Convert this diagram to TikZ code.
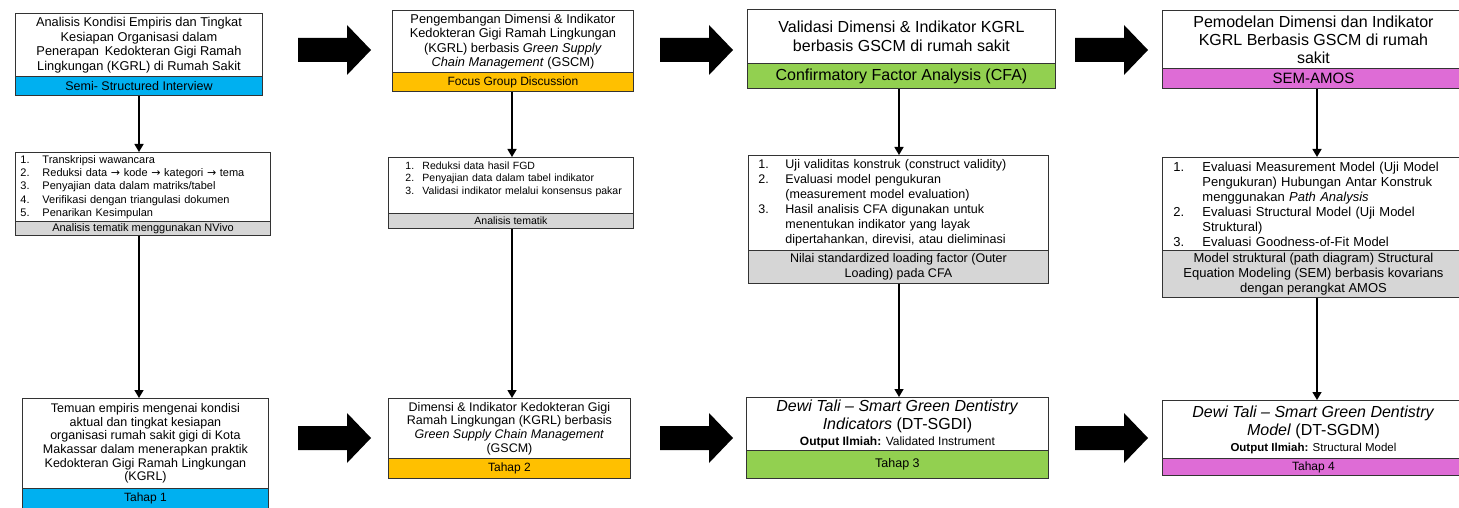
\documentclass[tikz,border=0pt]{standalone}
\usepackage{fontspec}
\setmainfont{Liberation Sans}
\newfontfamily\arrfont{DejaVu Sans}
\usetikzlibrary{arrows.meta}
\newcommand\myfs[2]{\fontsize{#1}{#2}\selectfont}
\newcommand\itm[3]{\makebox[#1][l]{#2.}#3}
\newcommand\cnt[2]{\hspace*{#1}#2}
\newcommand\rarr{{\arrfont →}}
\definecolor{bandblue}{RGB}{0,176,240}
\definecolor{bandorange}{RGB}{255,192,0}
\definecolor{bandgreen}{RGB}{146,208,80}
\definecolor{bandmagenta}{RGB}{222,108,214}
\definecolor{bandgray}{RGB}{214,214,214}
\tikzset{
  frame/.style={draw=black!80, line width=0.9pt, anchor=north west, inner sep=0pt, align=center},
  lst/.style={frame, align=left, inner ysep=0pt},
  conn/.style={line width=1.4pt, -{Triangle[length=8pt,width=9pt]}},
  bigarrow/.pic={\fill[black] (0,-12) -- (49,-12) -- (49,-25) -- (73,0) -- (49,25) -- (49,12) -- (0,12) -- cycle;}
}
\begin{document}
\begin{tikzpicture}[x=1pt,y=-1pt]
\clip (0,0) rectangle (1459,508);
\fill[white] (0,0) rectangle (1459,508);

% column coordinates
\coordinate (c1) at (139,0);
\coordinate (c2) at (512,0);
\coordinate (c3) at (899,0);
\coordinate (c4) at (1317,0);

% ---------- Row 1 ----------
\node[frame, minimum width=247pt, minimum height=63pt, font=\myfs{12.8}{14.5}] (t1) at (15,13)
 {Analisis Kondisi Empiris dan Tingkat\\ Kesiapan Organisasi dalam\\ Penerapan\, Kedokteran Gigi Ramah\\ Lingkungan (KGRL) di Rumah Sakit};
\node[frame, fill=bandblue, minimum width=247pt, minimum height=19pt, font=\myfs{12.5}{14}] (b1) at (15,76)
 {Semi- Structured Interview};

\node[frame, minimum width=241pt, minimum height=62pt, font=\myfs{12.8}{14.5}] (t2) at (392,10)
 {Pengembangan Dimensi \& Indikator\\ Kedokteran Gigi Ramah Lingkungan\\ (KGRL) berbasis \textit{Green Supply}\\ \textit{Chain Management} (GSCM)};
\node[frame, fill=bandorange, minimum width=241pt, minimum height=19pt, font=\myfs{12}{14}] (b2) at (392,72)
 {Focus Group Discussion};

\node[frame, minimum width=308pt, minimum height=54pt, font=\myfs{16}{19}] (t3) at (747,9)
 {Validasi Dimensi \& Indikator KGRL\\ berbasis GSCM di rumah sakit};
\node[frame, fill=bandgreen, minimum width=308pt, minimum height=25pt, font=\myfs{16}{19}] (b3) at (747,63)
 {Confirmatory Factor Analysis (CFA)};

\node[frame, minimum width=302pt, minimum height=58pt, font=\myfs{16}{18}] (t4) at (1162,10)
 {Pemodelan Dimensi dan Indikator\\ KGRL Berbasis GSCM di rumah\\ sakit};
\node[frame, fill=bandmagenta, minimum width=302pt, minimum height=20pt, font=\myfs{15}{17}] (b4) at (1162,68)
 {SEM-AMOS};

\pic at (298,50) {bigarrow};
\pic at (660,50) {bigarrow};
\pic at (1075,50) {bigarrow};

% ---------- Row 2 ----------
\node[lst, text width=245pt, inner xsep=5pt, minimum width=255pt, minimum height=69pt, font=\myfs{11}{13.3}] (l1) at (15,152)
 {\itm{22pt}{1}{Transkripsi wawancara}\\
  \itm{22pt}{2}{Reduksi data \rarr{} kode \rarr{} kategori \rarr{} tema}\\
  \itm{22pt}{3}{Penyajian data dalam matriks/tabel}\\
  \itm{22pt}{4}{Verifikasi dengan triangulasi dokumen}\\
  \itm{22pt}{5}{Penarikan Kesimpulan}};
\node[frame, fill=bandgray, minimum width=255pt, minimum height=14pt, font=\myfs{11}{12}] (g1) at (15,221)
 {Analisis tematik menggunakan NVivo};

\node[lst, text width=229pt, inner xsep=8pt, inner ysep=4pt, minimum width=245pt, minimum height=56pt, font=\myfs{10.5}{12.5}] (l2) at (388,157)
 {\itm{26pt}{\hspace*{9pt}1}{Reduksi data hasil FGD}\\
  \itm{26pt}{\hspace*{9pt}2}{Penyajian data dalam tabel indikator}\\
  \itm{26pt}{\hspace*{9pt}3}{Validasi indikator melalui konsensus pakar}\\[10pt]\mbox{}};
\node[frame, fill=bandgray, minimum width=245pt, minimum height=15pt, font=\myfs{10.5}{12}] (g2) at (388,213)
 {Analisis tematik};

\node[lst, text width=280pt, inner xsep=10pt, minimum width=300pt, minimum height=95pt, font=\myfs{12.5}{15}] (l3) at (748,155)
 {\itm{27pt}{1}{Uji validitas konstruk (construct validity)}\\
  \itm{27pt}{2}{Evaluasi model pengukuran}\\
  \cnt{27pt}{(measurement model evaluation)}\\
  \itm{27pt}{3}{Hasil analisis CFA digunakan untuk}\\
  \cnt{27pt}{menentukan indikator yang layak}\\
  \cnt{27pt}{dipertahankan, direvisi, atau dieliminasi}};
\node[frame, fill=bandgray, minimum width=300pt, minimum height=33pt, font=\myfs{12.5}{15}] (g3) at (748,250)
 {Nilai standardized loading factor (Outer\\ Loading) pada CFA};

\node[lst, text width=280pt, inner xsep=11pt, minimum width=302pt, minimum height=93pt, font=\myfs{13}{15}] (l4) at (1162,157)
 {\itm{29pt}{1}{Evaluasi Measurement Model (Uji Model}\\
  \cnt{29pt}{Pengukuran) Hubungan Antar Konstruk}\\
  \cnt{29pt}{menggunakan \textit{Path Analysis}}\\
  \itm{29pt}{2}{Evaluasi Structural Model (Uji Model}\\
  \cnt{29pt}{Struktural)}\\
  \itm{29pt}{3}{Evaluasi Goodness-of-Fit Model}};
\node[frame, fill=bandgray, minimum width=302pt, minimum height=47pt, font=\myfs{13}{15}] (g4) at (1162,250)
 {Model struktural (path diagram) Structural\\ Equation Modeling (SEM) berbasis kovarians\\ dengan perangkat AMOS};

% ---------- Row 3 ----------
\node[frame, minimum width=246pt, minimum height=90pt, font=\myfs{12.5}{13.7}] (r1) at (22,398)
 {Temuan empiris mengenai kondisi\\ aktual dan tingkat kesiapan\\ organisasi rumah sakit gigi di Kota\\ Makassar dalam menerapkan praktik\\ Kedokteran Gigi Ramah Lingkungan\\ (KGRL)};
\node[frame, fill=bandblue, minimum width=246pt, minimum height=20pt, font=\myfs{12}{14}] (rb1) at (22,488)
 {Tahap 1};

\node[frame, minimum width=242pt, minimum height=60pt, font=\myfs{12.5}{13.7}] (r2) at (388,398)
 {Dimensi \& Indikator Kedokteran Gigi\\ Ramah Lingkungan (KGRL) berbasis\\ \textit{Green Supply Chain Management}\\ (GSCM)};
\node[frame, fill=bandorange, minimum width=242pt, minimum height=20pt, font=\myfs{12}{14}] (rb2) at (388,458)
 {Tahap 2};

\node[frame, minimum width=302pt, minimum height=53pt, font=\myfs{16}{18}] (r3) at (746,397)
 {\textit{Dewi Tali – Smart Green Dentistry}\\ \textit{Indicators} (DT-SGDI)\\[-2pt] {\myfs{12}{14}\textbf{Output Ilmiah:} Validated Instrument}};
\node[frame, fill=bandgreen, minimum width=302pt, minimum height=28pt, font=\myfs{12.5}{14}] (rb3) at (746,450)
 {Tahap 3};

\node[frame, minimum width=302pt, minimum height=58pt, font=\myfs{16}{18}] (r4) at (1162,400)
 {\textit{Dewi Tali – Smart Green Dentistry}\\ \textit{Model} (DT-SGDM)\\[-2pt] {\myfs{11.5}{13}\textbf{Output Ilmiah:} Structural Model}};
\node[frame, fill=bandmagenta, minimum width=302pt, minimum height=17pt, font=\myfs{12}{14}] (rb4) at (1162,458)
 {Tahap 4};

\pic at (298,438) {bigarrow};
\pic at (660,438) {bigarrow};
\pic at (1075,438) {bigarrow};

% ---------- Connectors ----------
\draw[conn] (b1.south -| c1) -- (l1.north -| c1);
\draw[conn] (g1.south -| c1) -- (r1.north -| c1);
\draw[conn] (b2.south -| c2) -- (l2.north -| c2);
\draw[conn] (g2.south -| c2) -- (r2.north -| c2);
\draw[conn] (b3.south -| c3) -- (l3.north -| c3);
\draw[conn] (g3.south -| c3) -- (r3.north -| c3);
\draw[conn] (b4.south -| c4) -- (l4.north -| c4);
\draw[conn] (g4.south -| c4) -- (r4.north -| c4);
\end{tikzpicture}
\end{document}
